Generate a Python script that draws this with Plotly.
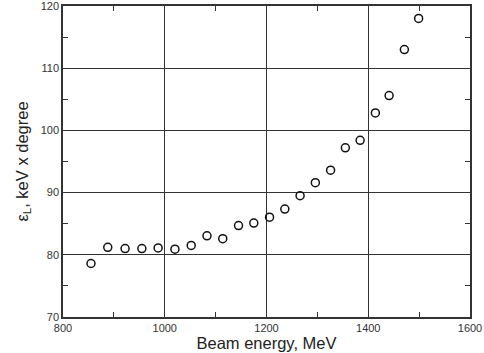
import plotly.graph_objects as go

energy = [855, 888, 922, 955, 987, 1020, 1052, 1083, 1114, 1145, 1175,
          1206, 1236, 1266, 1296, 1326, 1355, 1384, 1414, 1441, 1471, 1499]
epsilon = [78.6, 81.2, 81.0, 81.0, 81.1, 80.9, 81.5, 83.05, 82.6, 84.7, 85.1,
           86.05, 87.35, 89.5, 91.6, 93.6, 97.2, 98.4, 102.8, 105.6, 113.0, 118.0]

fig = go.Figure()
fig.add_trace(go.Scatter(
    x=energy, y=epsilon, mode="markers",
    marker=dict(symbol="circle-open", size=8, color="#111111",
                line=dict(width=1.5, color="#111111")),
    showlegend=False,
))

axis_common = dict(
    showline=True, linecolor="#333333", linewidth=1.5, mirror="ticks",
    showgrid=True, gridcolor="#333333", gridwidth=1.3,
    ticks="inside", ticklen=5, tickcolor="#333333", tickwidth=1.2,
    zeroline=False, automargin=False, ticklabeloverflow="allow",
    tickfont=dict(family="Liberation Sans, Arial", size=11, color="#333333"),
)

fig.update_xaxes(
    range=[800, 1600], dtick=200, tick0=800,
    minor=dict(dtick=100, ticks="inside", ticklen=5, tickcolor="#333333", tickwidth=1.2, showgrid=False),
    title=dict(text="Beam energy, MeV", standoff=0,
               font=dict(family="Liberation Sans, Arial", size=16.5, color="#222222")),
    **axis_common,
)
fig.update_yaxes(
    range=[70, 120], dtick=10, tick0=70,
    minor=dict(dtick=5, ticks="inside", ticklen=5, tickcolor="#333333", tickwidth=1.2, showgrid=False),
    title=dict(text="ε<sub>L</sub>, keV x degree", standoff=8,
               font=dict(family="Liberation Sans, Arial", size=16.5, color="#222222")),
    **axis_common,
)

fig.update_layout(
    width=484, height=353,
    margin=dict(l=63, r=14, t=6, b=36),
    plot_bgcolor="white", paper_bgcolor="white",
)

fig.write_html("out.html", config={"displayModeBar": False},
               post_script="document.body.style.margin='0';document.body.style.padding='0';")
